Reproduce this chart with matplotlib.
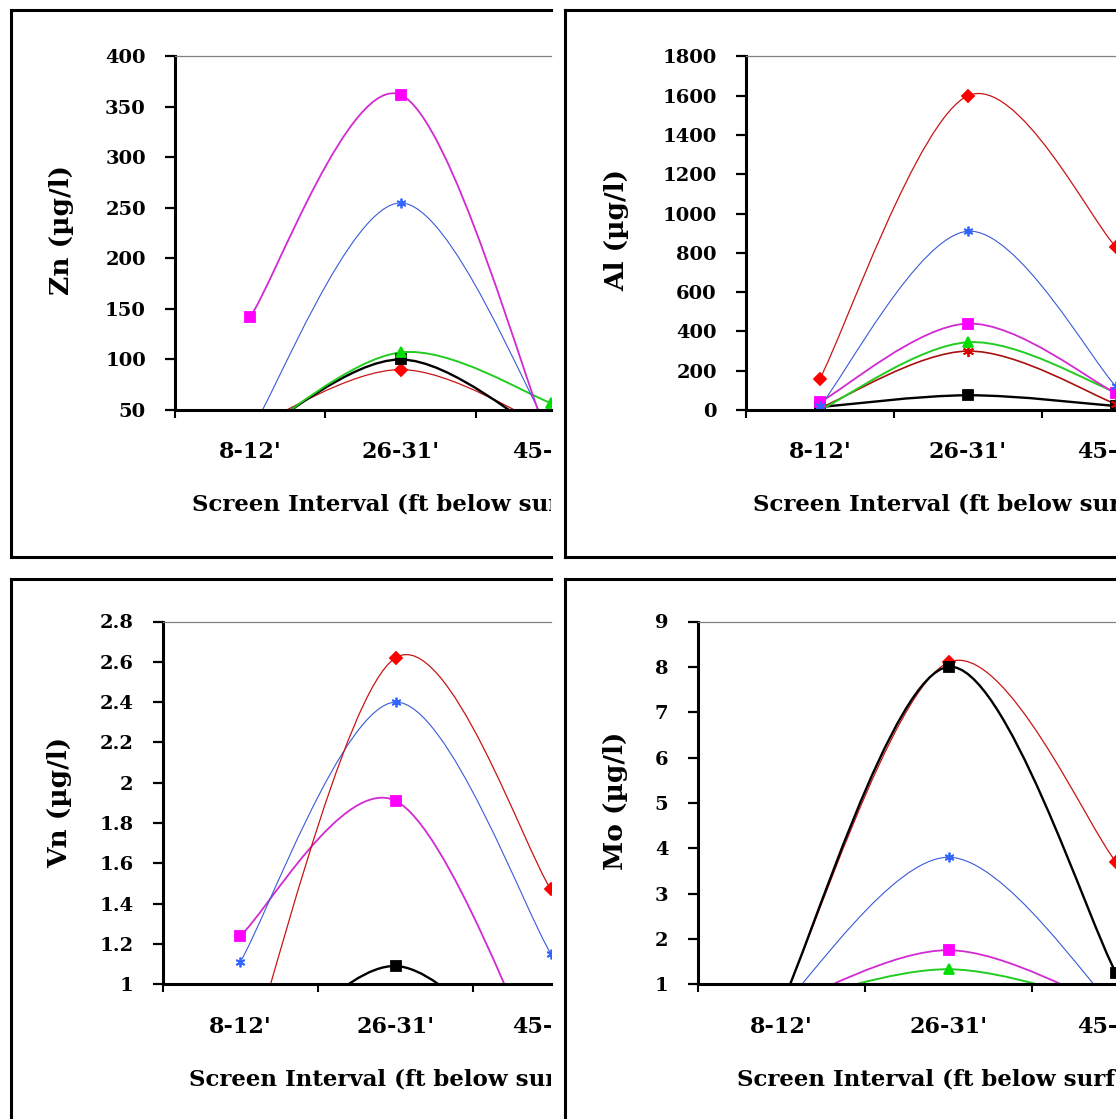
import numpy as np
import matplotlib
matplotlib.use("Agg")
import matplotlib.pyplot as plt
from matplotlib.path import Path
from matplotlib.patches import PathPatch
from matplotlib.transforms import blended_transform_factory

W, H = 1116, 1119

# ------------------------------
# data
# ------------------------------
categories = ["8-12'", "26-31'", "45-50'"]
xlabel = "Screen Interval (ft below surface)"

# Zn (ug/l)
zn_magenta = [142, 362, 15]
zn_blue = [28, 255, 28]
zn_green = [22, 107, 57]
zn_black = [23, 100, 22]
zn_red = [32, 90, 32]
zn_ticks = [50, 100, 150, 200, 250, 300, 350, 400]

# Al (ug/l)
al_red = [160, 1600, 830]
al_blue = [20, 910, 120]
al_magenta = [40, 440, 85]
al_green = [0, 345, 90]
al_darkred = [10, 300, 30]
al_black = [15, 75, 20]
al_ticks = [0, 200, 400, 600, 800, 1000, 1200, 1400, 1600, 1800]

# Vn (ug/l)
vn_magenta = [1.24, 1.91, 0.48]
vn_blue = [1.11, 2.40, 1.15]
vn_red = [0.5, 2.62, 1.47]
vn_black = [0.5, 1.09, 0.45]
vn_ticks = [1, 1.2, 1.4, 1.6, 1.8, 2, 2.2, 2.4, 2.6, 2.8]

# Mo (ug/l)
mo_red = [0.55, 8.1, 3.7]
mo_black = [0.55, 8.0, 1.25]
mo_blue = [0.5, 3.8, 0.45]
mo_magenta = [0.5, 1.75, 0.45]
mo_green = [0.55, 1.33, 0.5]
mo_ticks = [1, 2, 3, 4, 5, 6, 7, 8, 9]

# series styles: line colour, line width, marker, marker size, marker colour
STYLE = {
    "magenta": ("#d22ad2", 1.3, "s", 7, "#ff00ff"),
    "blue": ("#3a5ad8", 0.8, (6, 2, 0), 7, "#3366ff"),
    "green": ("#22cc22", 1.4, "^", 7, "#00dd00"),
    "black": ("#000000", 1.7, "s", 7, "#000000"),
    "red": ("#c81414", 0.9, "D", 6, "#ff0000"),
    "darkred": ("#a81010", 1.2, (6, 2, 0), 8, "#dd0000"),
}

plt.rcParams["font.family"] = ["DejaVu Serif"]
plt.rcParams["font.weight"] = "bold"

fig = plt.figure(figsize=(W / 100, H / 100), dpi=100)


def fig_rect(x0, y0, x1, y1):
    # pixel box (origin top-left) -> figure fraction rect
    return [x0 / W, 1 - y1 / H, (x1 - x0) / W, (y1 - y0) / H]


def smooth_path(xs, ys, t=1 / 6):
    # excel-like smoothed line: cubic bezier through the points
    pts = np.column_stack([xs, ys]).astype(float)
    n = len(pts)
    verts = [pts[0]]
    codes = [Path.MOVETO]
    for i in range(n - 1):
        p0 = pts[max(i - 1, 0)]
        p1 = pts[i]
        p2 = pts[i + 1]
        p3 = pts[min(i + 2, n - 1)]
        verts += [p1 + (p2 - p0) * t, p2 - (p3 - p1) * t, p2]
        codes += [Path.CURVE4] * 3
    return Path(verts, codes)


def panel(box, crop, ax_left, y_top, y_bot, step, ylim, yticks, ylabel,
          ylabel_xy, xlab_x, xlab_y, xtick_y, series):
    bl, bt, bb = box
    bottom = H if bb is None else bb + 3

    # background panel (frame + texts), pixel coordinates
    pax = fig.add_axes(fig_rect(bl - 3, bt - 3, crop, bottom))
    pax.set_xlim(bl - 3, crop)
    pax.set_ylim(bottom, bt - 3)
    pax.axis("off")
    pax.plot([bl, bl], [bt, H if bb is None else bb], color="k", lw=2.2,
             clip_on=False, solid_capstyle="projecting")
    pax.plot([bl, crop], [bt, bt], color="k", lw=2.2, clip_on=False,
             solid_capstyle="projecting")
    if bb is not None:
        pax.plot([bl, crop], [bb, bb], color="k", lw=2.2, clip_on=False,
                 solid_capstyle="projecting")

    # plot area, cut at the crop line like the screenshot
    ax = fig.add_axes(fig_rect(ax_left, y_top, crop, y_bot))
    ax.set_facecolor("none")
    ax.set_xlim(0.5, 0.5 + (crop - ax_left) / step)
    ax.set_ylim(*ylim)
    ax.spines["right"].set_visible(False)
    ax.spines["top"].set_color("#808080")
    ax.spines["top"].set_linewidth(0.9)
    ax.spines["left"].set_linewidth(2.2)
    ax.spines["bottom"].set_linewidth(2.2)

    ax.set_yticks(yticks)
    ax.set_yticklabels(["%g" % v for v in yticks])
    ax.tick_params(axis="y", direction="out", length=7, width=1.6, pad=14,
                   labelsize=14)
    ax.set_xticks(range(1, len(categories) + 1))
    ax.tick_params(axis="x", which="major", length=0, labelbottom=False)
    ax.set_xticks([i + 0.5 for i in range(len(categories))], minor=True)
    ax.tick_params(axis="x", which="minor", direction="out", length=6,
                   width=1.5)

    xs = list(range(1, len(categories) + 1))
    for vals, key in series:
        lc, lw, mk, ms, mc = STYLE[key]
        ax.add_patch(PathPatch(smooth_path(xs, vals), facecolor="none",
                               edgecolor=lc, lw=lw))
        ax.plot(xs, vals, ls="none", marker=mk, ms=ms, color=mc, mew=1.3)

    trans = blended_transform_factory(ax.transData, pax.transData)
    for i, c in enumerate(categories):
        pax.text(i + 1, xtick_y, c, transform=trans, ha="center",
                 va="center", fontsize=16, clip_on=True)
    pax.text(xlab_x, xlab_y, xlabel, ha="left", va="center", fontsize=16.5,
             clip_on=True)
    pax.text(ylabel_xy[0], ylabel_xy[1], ylabel, rotation=90, ha="center",
             va="center", fontsize=19, clip_on=True)


# Zn
panel((10.5, 10.5, 557), 551, 175, 56.4, 410, 154, (50, 400), zn_ticks,
      "Zn (µg/l)", (61, 230), 192, 505, 452,
      [(zn_red, "red"), (zn_black, "black"), (zn_green, "green"),
       (zn_blue, "blue"), (zn_magenta, "magenta")])

# Al
panel((565, 10.5, 557), W, 746, 56.4, 410, 148, (0, 1800), al_ticks,
      "Al (µg/l)", (617, 230), 753, 505, 452,
      [(al_black, "black"), (al_darkred, "darkred"), (al_green, "green"),
       (al_magenta, "magenta"), (al_blue, "blue"), (al_red, "red")])

# Vn
panel((10.5, 579, None), 551, 162.5, 621.5, 984.2, 160, (1, 2.8), vn_ticks,
      "Vn (µg/l)", (60, 802), 189, 1079.5, 1027,
      [(vn_black, "black"), (vn_magenta, "magenta"), (vn_blue, "blue"),
       (vn_red, "red")])

# Mo
panel((565, 579, None), W, 697.5, 621.5, 984.2, 168, (1, 9), mo_ticks,
      "Mo (µg/l)", (615, 801), 737, 1079.5, 1027,
      [(mo_green, "green"), (mo_magenta, "magenta"), (mo_blue, "blue"),
       (mo_red, "red"), (mo_black, "black")])

fig.savefig("out.png", dpi=100)
